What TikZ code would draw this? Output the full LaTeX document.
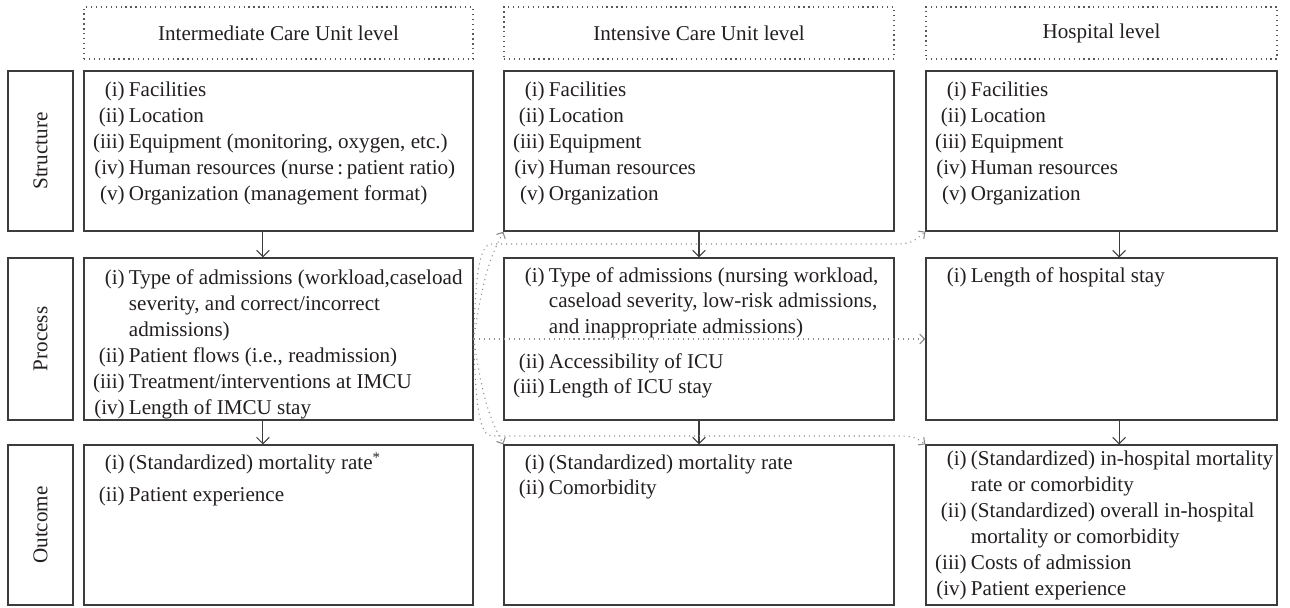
\documentclass[tikz,border=0pt]{standalone}
\usepackage{fontspec}
\setmainfont{Liberation Serif}
\usepackage{xcolor}
\usepackage{tikz}
\usetikzlibrary{positioning,shapes,arrows.meta}

\definecolor{inkgray}{HTML}{231F20}
\definecolor{boxgray}{HTML}{3C3C3C}
\definecolor{dotgray}{HTML}{8A8A8A}

\newcommand{\cellfont}{\fontsize{15}{18.4}\selectfont}
\newcommand{\itm}[2]{\par\noindent\hangindent=27pt\hangafter=1\strut\makebox[27pt][l]{\makebox[24pt][r]{#1}}#2\par}
\newcommand{\cellbox}[4][4.9pt]{\parbox[c][#2][t]{#3}{\cellfont\raggedright\leftskip=5pt\relax\vspace*{#1}#4}}

\tikzset{
    cell/.style={draw=boxgray, line width=0.85pt, rectangle, inner sep=0pt},
    side/.style={draw=boxgray, line width=0.85pt, rectangle, inner sep=0pt,
        minimum width=4cm, minimum height=1.625cm, rotate=90},
    head/.style={draw=boxgray!85, line width=0.9pt, dash pattern=on 0.9pt off 2.6pt,
        rectangle, inner sep=0pt, minimum height=1.3cm},
    flow/.style={draw=boxgray, line width=0.75pt, -{Straight Barb[length=4.5pt,width=9pt]}},
    link/.style={draw=dotgray, line width=0.75pt, dash pattern=on 0.75pt off 2.8pt,
        -{Straight Barb[length=3.5pt,width=7pt]}}
}

\begin{document}
\begin{tikzpicture}[x=0.025cm, y=-0.025cm, font=\cellfont, text=inkgray]
    \useasboundingbox (0,0) rectangle (1290,607);

    % column heads
    \node[head, minimum width=9.725cm] (imcuHead) at (278.5,33) {Intermediate Care Unit level};
    \node[head, minimum width=9.75cm] (icuHead) at (699,33) {Intensive Care Unit level};
    \node[head, minimum width=8.775cm] (hospHead) at (1101.5,33) {Hospital level};

    % row labels
    \node[side] (structLbl) at (40.5,151) {Structure};
    \node[side, minimum width=4.05cm] (procLbl) at (40.5,339) {Process};
    \node[side] (outLbl) at (40.5,525) {Outcome};

    % structure
    \node[cell] (imcuStruct) at (278.5,151) {\cellbox[5.6pt]{4cm}{9.725cm}{
        \itm{(i)}{Facilities}
        \itm{(ii)}{Location}
        \itm{(iii)}{Equipment (monitoring, oxygen, etc.)}
        \itm{(iv)}{Human resources (nurse\,:\,patient ratio)}
        \itm{(v)}{Organization (management format)}}};
    \node[cell] (icuStruct) at (699,151) {\cellbox[5.6pt]{4cm}{9.75cm}{
        \itm{(i)}{Facilities}
        \itm{(ii)}{Location}
        \itm{(iii)}{Equipment}
        \itm{(iv)}{Human resources}
        \itm{(v)}{Organization}}};
    \node[cell] (hospStruct) at (1101.5,151) {\cellbox[5.6pt]{4cm}{8.775cm}{
        \itm{(i)}{Facilities}
        \itm{(ii)}{Location}
        \itm{(iii)}{Equipment}
        \itm{(iv)}{Human resources}
        \itm{(v)}{Organization}}};

    % process
    \node[cell] (imcuProc) at (278.5,339) {\cellbox[6.3pt]{4.05cm}{9.725cm}{
        \itm{(i)}{Type of admissions (workload,caseload\newline severity, and correct/incorrect\newline admissions)}
        \itm{(ii)}{Patient flows (i.e., readmission)}
        \itm{(iii)}{Treatment/interventions at IMCU}
        \itm{(iv)}{Length of IMCU stay}}};
    \node[cell] (icuProc) at (699,339) {\cellbox[4.2pt]{4.05cm}{9.75cm}{
        \itm{(i)}{Type of admissions (nursing workload,\newline caseload severity, low-risk admissions,\newline and inappropriate admissions)}
        \vspace{6pt}
        \itm{(ii)}{Accessibility of ICU}
        \itm{(iii)}{Length of ICU stay}}};
    \node[cell] (hospProc) at (1101.5,339) {\cellbox[4.2pt]{4.05cm}{8.775cm}{
        \itm{(i)}{Length of hospital stay}}};

    % outcome
    \node[cell] (imcuOut) at (278.5,525) {\cellbox[4.9pt]{4cm}{9.725cm}{
        \itm{(i)}{(Standardized) mortality rate\textsuperscript{*}}
        \vspace{4.3pt}
        \itm{(ii)}{Patient experience}}};
    \node[cell] (icuOut) at (699,525) {\cellbox[4.2pt]{4cm}{9.75cm}{
        \itm{(i)}{(Standardized) mortality rate}
        \itm{(ii)}{Comorbidity}}};
    \node[cell] (hospOut) at (1101.5,525) {\cellbox[2pt]{4cm}{8.775cm}{
        \itm{(i)}{\mbox{(Standardized) in-hospital mortality}\newline rate or comorbidity}
        \itm{(ii)}{(Standardized) overall in-hospital\newline mortality or comorbidity}
        \itm{(iii)}{Costs of admission}
        \itm{(iv)}{Patient experience}}};

    % vertical flow
    \draw[flow] ([xshift=-0.39cm]imcuStruct.south) -- ([xshift=-0.39cm]imcuProc.north);
    \draw[flow] ([xshift=-0.39cm]imcuProc.south) -- ([xshift=-0.39cm]imcuOut.north);
    \draw[flow] (icuStruct.south) -- (icuProc.north);
    \draw[flow] (icuProc.south) -- (icuOut.north);
    \draw[flow] ([xshift=0.44cm]hospStruct.south) -- ([xshift=0.44cm]hospProc.north);
    \draw[flow] ([xshift=0.44cm]hospProc.south) -- ([xshift=0.44cm]hospOut.north);

    % links from the IMCU process
    \coordinate (upA) at (492,244);
    \coordinate (upB) at (898,244);
    \coordinate (loA) at (492,436);
    \coordinate (loB) at (898,436);
    \draw[link] (imcuProc.east) -- (hospProc.west);
    \draw[link] (imcuProc.east) .. controls +(10,-65) and +(-14,28) .. (icuStruct.south west);
    \draw[link] (imcuProc.east) .. controls +(2,-70) and +(-12,0) .. (upA) -- (upB)
        .. controls +(16,0) and +(-8,6) .. (hospStruct.south west);
    \draw[link] (imcuProc.east) .. controls +(10,65) and +(-14,-28) .. (icuOut.north west);
    \draw[link] (imcuProc.east) .. controls +(2,70) and +(-12,0) .. (loA) -- (loB)
        .. controls +(16,0) and +(-8,-6) .. (hospOut.north west);
\end{tikzpicture}
\end{document}
